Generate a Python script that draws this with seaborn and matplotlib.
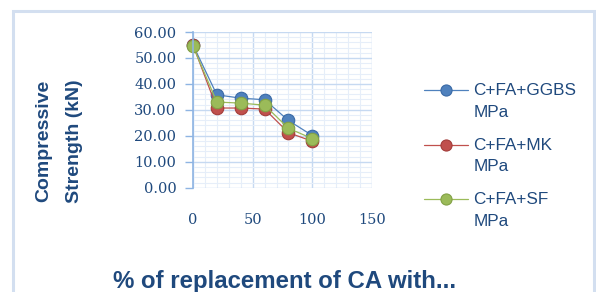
import matplotlib
matplotlib.use("Agg")
import numpy as np
import matplotlib.pyplot as plt
from matplotlib.patches import Rectangle
from matplotlib.legend_handler import HandlerLine2D
from matplotlib.ticker import MultipleLocator, FormatStrFormatter
import seaborn as sns
import pandas as pd

replacement = [0, 20, 40, 60, 80, 100]
ggbs = [55.0, 35.8, 34.5, 33.9, 25.9, 20.1]
mk = [55.0, 30.7, 30.7, 30.3, 21.2, 17.9]
sf = [54.5, 33.0, 32.6, 31.8, 22.9, 18.9]
series_names = ["C+FA+GGBS\nMPa", "C+FA+MK\nMPa", "C+FA+SF\nMPa"]
colors = ["#4f81bd", "#c0504d", "#9bbb59"]
edge_colors = ["#3a6aa6", "#a33d3a", "#82a145"]
y_label = "Compressive\nStrength (kN)"
x_label = "% of replacement of CA with..."

rows = []
for name, vals in zip(series_names, [ggbs, mk, sf]):
    for x, v in zip(replacement, vals):
        rows.append({"x": x, "y": v, "series": name})
df = pd.DataFrame(rows)

sns.set_theme(style="white")
plt.rcParams["font.family"] = ["DejaVu Sans"]

W, H = 596, 292
fig = plt.figure(figsize=(W / 100, H / 100), dpi=100)
ax = fig.add_axes([193 / W, 1 - 187.7 / H, (372 - 193) / W, (187.7 - 32) / H])

text_color = "#1f497d"

sns.lineplot(data=df, x="x", y="y", hue="series", palette=colors, marker="o",
             markersize=9, linewidth=0.9, ax=ax, legend=False)
for line, ec in zip(ax.get_lines(), edge_colors):
    line.set_clip_on(False)
    line.set_markeredgecolor(ec)
    line.set_markeredgewidth(0.8)

ax.set_xlim(0, 150)
ax.set_ylim(0, 60)
ax.xaxis.set_major_locator(MultipleLocator(50))
ax.xaxis.set_minor_locator(MultipleLocator(10))
ax.yaxis.set_major_locator(MultipleLocator(10))
ax.yaxis.set_minor_locator(MultipleLocator(2))
ax.yaxis.set_major_formatter(FormatStrFormatter("%.2f"))
ax.grid(True, which="major", color="#c6d9f1", linewidth=1.0)
ax.grid(True, which="minor", color="#e6eef9", linewidth=0.8)
ax.set_axisbelow(True)
for s in ["top", "right", "bottom"]:
    ax.spines[s].set_visible(False)
ax.spines["left"].set_color("#8eb4e3")
ax.spines["left"].set_linewidth(1.2)
ax.tick_params(axis="y", which="major", length=6, width=1, color="#8eb4e3",
               pad=6, labelsize=10.5, labelcolor=text_color, left=True)
ax.tick_params(axis="y", which="minor", length=0)
ax.tick_params(axis="x", which="both", length=0, pad=18, labelsize=10.5,
               labelcolor=text_color)
for lbl in ax.get_xticklabels() + ax.get_yticklabels():
    lbl.set_family("DejaVu Serif")
ax.set_xlabel("")
ax.set_ylabel("")

fig.text(59 / W, 1 - 141 / H, y_label, rotation=90, ha="center", va="center",
         fontsize=14, fontweight="bold", color=text_color, linespacing=2.1,
         family="Liberation Sans")
fig.text(285 / W, 1 - 288 / H, x_label, ha="center", va="baseline",
         fontsize=17.3, fontweight="bold", color=text_color,
         family="Liberation Sans")


def raise_handle(legend_handle, orig_handle):
    legend_handle.update_from(orig_handle)
    legend_handle.set_ydata(np.asarray(legend_handle.get_ydata()) + 8.0)


handles = ax.get_lines()[:3]
leg = fig.legend(handles, series_names, loc="upper left",
                 bbox_to_anchor=(424 / W, 1 - 83 / H), frameon=False,
                 prop={"family": "Liberation Sans", "size": 12.3},
                 handlelength=2.6, handletextpad=0.3, borderpad=0,
                 borderaxespad=0, labelspacing=1.05,
                 handler_map={h: HandlerLine2D(update_func=raise_handle)
                              for h in handles})
for t in leg.get_texts():
    t.set_color(text_color)
    t.set_linespacing(1.55)
for lh in leg.legend_handles:
    lh.set_markersize(8)

fig.patches.append(Rectangle((13 / W, -0.1), (594 - 13) / W, 1.1 - 11 / H,
                             transform=fig.transFigure, fill=False,
                             edgecolor="#d3dff0", linewidth=2.2))

fig.savefig("out.png", dpi=100)
